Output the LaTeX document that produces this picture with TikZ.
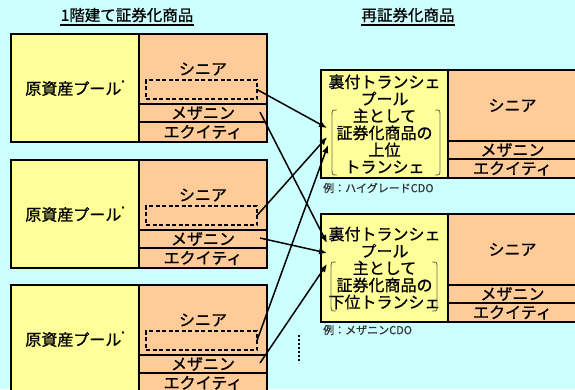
\documentclass[tikz,border=0pt]{standalone}
\usepackage{fontspec}
\setmainfont{Noto Sans CJK JP}[FakeBold=0.9]
\usetikzlibrary{arrows.meta}
\definecolor{bgc}{HTML}{CCFFFF}
\definecolor{poolc}{HTML}{FFFF99}
\definecolor{trc}{HTML}{FFCC99}
\definecolor{brkc}{RGB}{110,110,90}
\begin{document}
\begin{tikzpicture}[x=1pt,y=-1pt,
  every node/.style={font=\fontsize{16pt}{18pt}\selectfont, text=black},
  cell/.style={inner sep=0pt, outer sep=0pt, anchor=north west, draw=black, line width=1.2pt},
  poolcell/.style={cell, fill=poolc},
  trcell/.style={cell, fill=trc},
  dashbox/.style={inner sep=0pt, outer sep=0pt, anchor=north west, draw=black, line width=1.9pt, dash pattern=on 4pt off 2.5pt, minimum width=111pt, minimum height=19pt},
  outer/.style={draw=black, line width=2.8pt},
  arr/.style={line width=1.5pt, -{Latex[length=8pt,width=6.5pt]}},
  brk/.style={draw=brkc, line width=0.9pt},
  exlbl/.style={font=\fontsize{11pt}{12pt}\selectfont, anchor=west, inner sep=0pt, text=black!80},
  hdr/.style={font=\fontsize{15.5pt}{17pt}\selectfont, inner sep=0pt}]
\useasboundingbox (0,0) rectangle (575,389);
\fill[bgc] (0,0) rectangle (575,389);
\clip (0,0) rectangle (575,389);

% headers
\node[hdr] (h1) at (127,15) {1階建て証券化商品};
\node[hdr] (h2) at (408,15) {再証券化商品};
\draw[line width=1.3pt] ([yshift=-2.5pt]h1.south west) -- ([yshift=-2.5pt]h1.south east);
\draw[line width=1.3pt] ([yshift=-2.5pt]h2.south west) -- ([yshift=-2.5pt]h2.south east);

% left boxes
\foreach \i/\t in {1/34,2/160,3/285}{
  \node[poolcell, minimum width=128pt, minimum height=108pt] (pool\i) at (11,\t)
    {原資産プール\raisebox{0.55em}{\fontsize{7pt}{7pt}\selectfont *}};
  \node[trcell, minimum width=128pt, minimum height=70pt] (sen\i) at (139,\t) {};
  \node[inner sep=0pt] (sent\i) at (203,{\t+35}) {シニア};
  \node[trcell, minimum width=128pt, minimum height=18pt] (mez\i) at (139,{\t+70}) {メザニン};
  \node[trcell, minimum width=128pt, minimum height=20pt] (eq\i) at (139,{\t+88}) {エクイティ};
  \node[dashbox] (dash\i) at (146,{\t+46}) {};
  \draw[outer] (pool\i.north west) rectangle (eq\i.south east);
  \coordinate (ms\i) at (260,{\t+78});
}

% right boxes
\foreach \j/\T/\txt in {A/70/{裏付トランシェ\\プール\\主として\\証券化商品の\\上位\\トランシェ},
                       B/214/{裏付トランシェ\\プール\\主として\\証券化商品の\\下位トランシェ}}{
  \node[poolcell, minimum width=127pt, minimum height=108pt, align=center,
        font=\fontsize{16pt}{17pt}\selectfont] (rp\j) at (321,\T) {\txt};
  \node[trcell, minimum width=129pt, minimum height=71pt] (rs\j) at (448,\T) {シニア};
  \node[trcell, minimum width=129pt, minimum height=18pt] (rm\j) at (448,{\T+71}) {メザニン};
  \node[trcell, minimum width=129pt, minimum height=19pt] (re\j) at (448,{\T+89}) {エクイティ};
  \draw[outer] (rp\j.north west) rectangle (re\j.south east);
}

% brackets
\draw[brk] (337,110) .. controls (332,110) .. (332,116) -- (332,169) .. controls (332,175) .. (337,175);
\draw[brk] (435,110) .. controls (440,110) .. (440,116) -- (440,169) .. controls (440,175) .. (435,175);
\draw[brk] (336,262) .. controls (331,262) .. (331,268) -- (331,305) .. controls (331,311) .. (336,311);
\draw[brk] (432,262) .. controls (437,262) .. (437,268) -- (437,305) .. controls (437,311) .. (432,311);

% example labels
\node[exlbl] (exA) at (323,188) {例：ハイグレードCDO};
\node[exlbl] (exB) at (323,330) {例：メザニンCDO};

% arrow targets
\coordinate (ta1) at (327,128);
\coordinate (ta2) at (327,137);
\coordinate (ta3) at (328,145);
\coordinate (tb1) at (327,243);
\coordinate (tb2) at (327,253);
\coordinate (tb3) at (327,264);

\draw[arr] (dash1.east) -- (ta1);
\draw[arr] (dash2.east) -- (ta2);
\draw[arr] (dash3.east) -- (ta3);
\draw[arr] (ms1) -- (tb1);
\draw[arr] (ms2) -- (tb2);
\draw[arr] (ms3) -- (tb3);

% vertical dots
\draw[line width=2.6pt, dash pattern=on 2pt off 2pt] (299,335) -- (299,363);
\end{tikzpicture}
\end{document}
